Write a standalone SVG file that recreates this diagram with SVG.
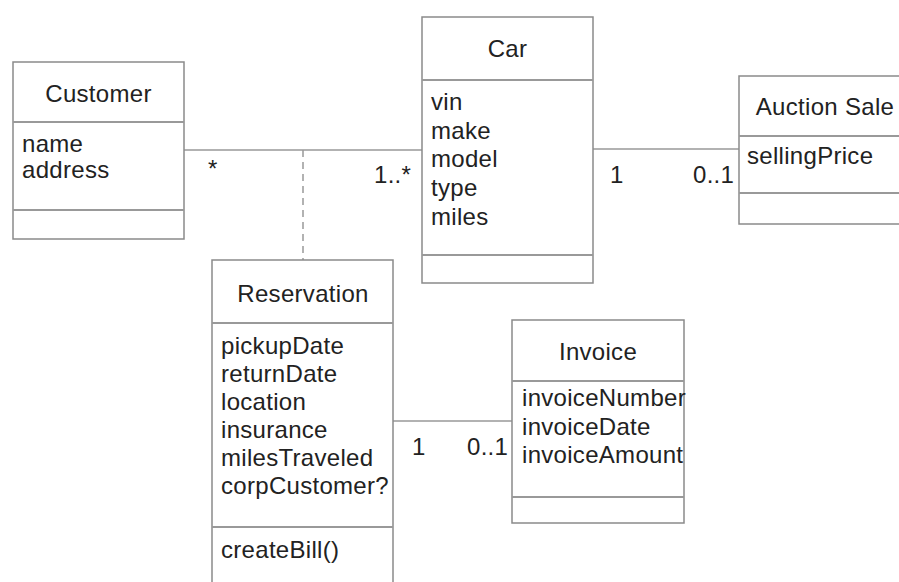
<svg xmlns="http://www.w3.org/2000/svg" width="899" height="582" viewBox="0 0 899 582">
<style>
.box{fill:#fff;stroke:#8a8a8a;stroke-width:1.5}
.sep{stroke:#999;stroke-width:2}
.t{font-family:"Liberation Sans",Arial,Helvetica,sans-serif;font-size:24px;fill:#222;letter-spacing:0.3px}
.c{text-anchor:middle}
.ln{stroke:#999;stroke-width:1.5;fill:none}
.dash{stroke-dasharray:7 5}
</style>
<rect width="899" height="582" fill="#fff"/>
<g id="connectors">
<line class="ln" x1="184" y1="150" x2="422" y2="150"/>
<line class="ln dash" x1="303" y1="150" x2="303" y2="260"/>
<line class="ln" x1="593" y1="149" x2="739" y2="149"/>
<line class="ln" x1="393" y1="421" x2="512" y2="421"/>
<text class="t" x="208" y="177">*</text>
<text class="t" x="374" y="183">1..*</text>
<text class="t" x="610" y="183">1</text>
<text class="t" x="693" y="183">0..1</text>
<text class="t" x="412" y="455">1</text>
<text class="t" x="467" y="455">0..1</text>
</g>
<g id="customer">
<rect class="box" x="13" y="62" width="171" height="177"/>
<line class="sep" x1="13" y1="122" x2="184" y2="122"/>
<line class="sep" x1="13" y1="210" x2="184" y2="210"/>
<text class="t c" x="98.5" y="102">Customer</text>
<text class="t" x="22" y="152">name</text>
<text class="t" x="22" y="178">address</text>
</g>
<g id="car">
<rect class="box" x="422" y="17" width="171" height="266"/>
<line class="sep" x1="422" y1="80" x2="593" y2="80"/>
<line class="sep" x1="422" y1="255" x2="593" y2="255"/>
<text class="t c" x="507.5" y="57">Car</text>
<text class="t" x="431" y="110">vin</text>
<text class="t" x="431" y="139">make</text>
<text class="t" x="431" y="167">model</text>
<text class="t" x="431" y="196">type</text>
<text class="t" x="431" y="225">miles</text>
</g>
<g id="auction-sale">
<rect class="box" x="739" y="76" width="172" height="148"/>
<line class="sep" x1="739" y1="136" x2="911" y2="136"/>
<line class="sep" x1="739" y1="193" x2="911" y2="193"/>
<text class="t c" x="825" y="115">Auction Sale</text>
<text class="t" x="747" y="164">sellingPrice</text>
</g>
<g id="reservation">
<rect class="box" x="212" y="260" width="181" height="330"/>
<line class="sep" x1="212" y1="323" x2="393" y2="323"/>
<line class="sep" x1="212" y1="527" x2="393" y2="527"/>
<text class="t c" x="303" y="302">Reservation</text>
<text class="t" x="221" y="354">pickupDate</text>
<text class="t" x="221" y="382">returnDate</text>
<text class="t" x="221" y="410">location</text>
<text class="t" x="221" y="438">insurance</text>
<text class="t" x="221" y="466">milesTraveled</text>
<text class="t" x="221" y="494">corpCustomer?</text>
<text class="t" x="221" y="558">createBill()</text>
</g>
<g id="invoice">
<rect class="box" x="512" y="320" width="172" height="203"/>
<line class="sep" x1="512" y1="381" x2="684" y2="381"/>
<line class="sep" x1="512" y1="497" x2="684" y2="497"/>
<text class="t c" x="598" y="360">Invoice</text>
<text class="t" x="522" y="406">invoiceNumber</text>
<text class="t" x="522" y="435">invoiceDate</text>
<text class="t" x="522" y="463">invoiceAmount</text>
</g>
</svg>
